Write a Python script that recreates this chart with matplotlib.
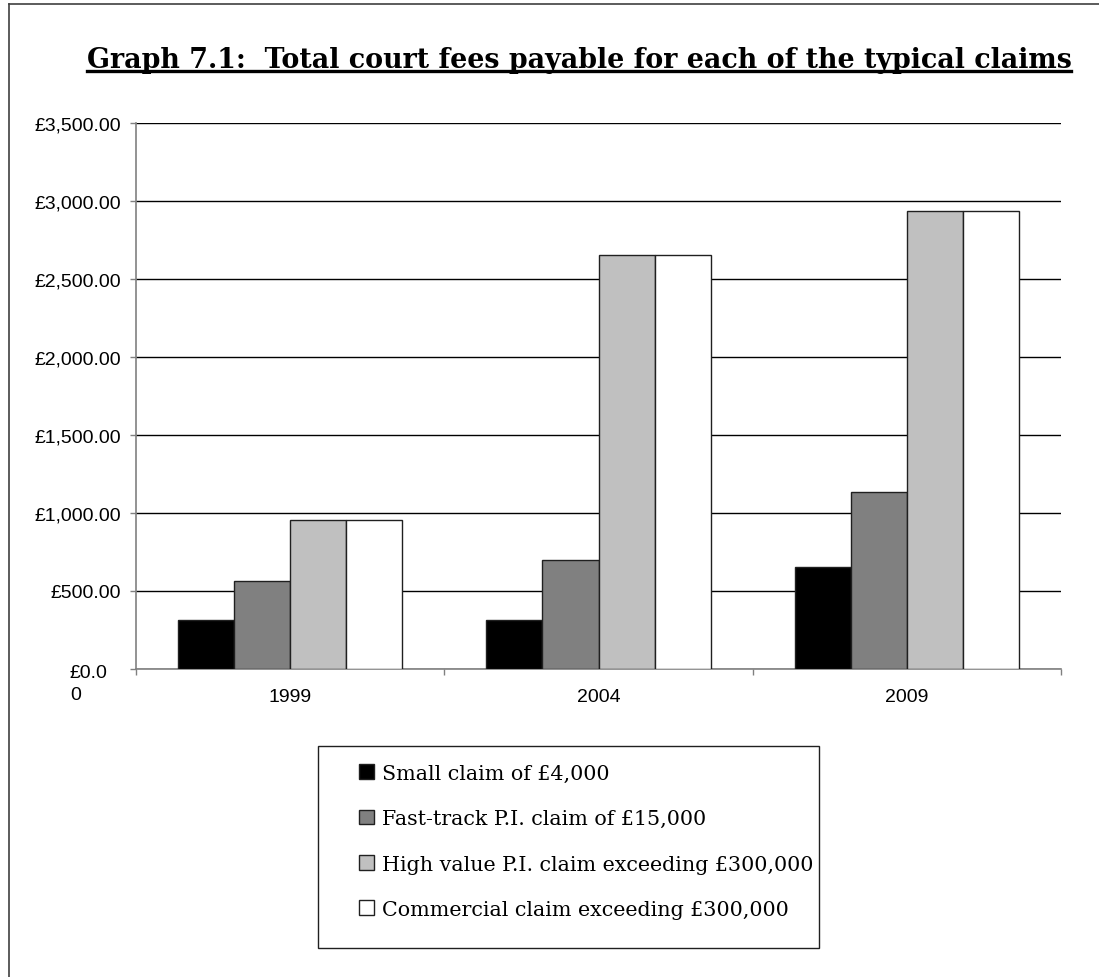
import numpy as np
import matplotlib.pyplot as plt
from matplotlib.ticker import FuncFormatter, FixedLocator
from matplotlib.lines import Line2D
from matplotlib.patches import Rectangle
from matplotlib.transforms import blended_transform_factory, ScaledTranslation

# Data
years = ['1999', '2004', '2009']
small_claim = [314, 314, 654]
fast_track = [562, 700, 1136]
high_value_pi = [957, 2652, 2938]
commercial = [957, 2652, 2938]

series_names = ['Small claim of £4,000',
                'Fast-track P.I. claim of £15,000',
                'High value P.I. claim exceeding £300,000',
                'Commercial claim exceeding £300,000']
series_values = [small_claim, fast_track, high_value_pi, commercial]
series_colors = ['#000000', '#808080', '#c0c0c0', '#ffffff']

W, H = 1099, 978
fig = plt.figure(figsize=(W / 100, H / 100), dpi=100)
fig.patch.set_facecolor('white')

# axes placed to match the plot area (pixels)
ax = fig.add_axes([136 / W, 1 - 670 / H, (1061 - 136) / W, (670 - 124) / H])

x = np.arange(len(years))
bar_w = 0.182
for i, (name, vals, col) in enumerate(zip(series_names, series_values, series_colors)):
    ax.bar(x + (i - 1.5) * bar_w, vals, width=bar_w, color=col,
           edgecolor='#202020', linewidth=1.0, label=name, zorder=3)

ax.set_xlim(-0.5, len(years) - 0.5)
ax.set_ylim(0, 3500)
ax.set_yticks(np.arange(0, 3501, 500))

def money(v, pos):
    if v == 0:
        return ''
    return '£{:,.2f}'.format(v)

ax.yaxis.set_major_formatter(FuncFormatter(money))
ax.yaxis.grid(True, color='#000000', linewidth=1.0, zorder=0)
ax.set_axisbelow(True)

ax.set_xticks(x)
ax.set_xticklabels(years)
ax.xaxis.set_minor_locator(FixedLocator(np.arange(-0.5, len(years), 1.0)))
ax.tick_params(axis='x', which='major', length=0, pad=14)
ax.tick_params(axis='x', which='minor', length=4.5, width=1, color='#808080', direction='out')
ax.tick_params(axis='y', length=4.5, width=1, color='#808080', pad=6.5)
for lbl in ax.get_xticklabels() + ax.get_yticklabels():
    lbl.set_fontfamily('Liberation Sans')
    lbl.set_fontsize(14)

for s in ['top', 'right']:
    ax.spines[s].set_visible(False)
for s in ['left', 'bottom']:
    ax.spines[s].set_color('#808080')
    ax.spines[s].set_linewidth(1.2)

# the wrapped zero label, as in the original
tr = blended_transform_factory(fig.transFigure, ax.transData) + \
    ScaledTranslation(0, 5 / 100, fig.dpi_scale_trans)
fig.text(70 / W, 0, '£0.0\n0', transform=tr, ha='left', va='top',
         fontfamily='Liberation Sans', fontsize=14, linespacing=1.35)

# title with underline
title = fig.text(579 / W, 1 - 68 / H, 'Graph 7.1:  Total court fees payable for each of the typical claims',
                 ha='center', va='baseline', fontfamily='DejaVu Serif',
                 fontweight='bold', fontsize=19)
renderer = fig.canvas.get_renderer()
bb = title.get_window_extent(renderer)
target_w = 1070 - 88
title.set_fontsize(19 * target_w / bb.width)
bb = title.get_window_extent(renderer)
uy = 1 - 72 / H
fig.add_artist(Line2D([bb.x0 / W, bb.x1 / W], [uy, uy], color='black', linewidth=2.4,
                      transform=fig.transFigure))

# legend below the chart, with its own box
leg = fig.legend(loc='upper left', bbox_to_anchor=(359 / W, 1 - 765 / H),
                 frameon=False,
                 prop={'family': 'DejaVu Serif', 'size': 14.9},
                 handlelength=0.72, handleheight=0.72, handletextpad=0.38,
                 labelspacing=1.27, borderpad=0, borderaxespad=0)
fig.add_artist(Rectangle((318 / W, 1 - 949 / H), (819 - 318) / W, (949 - 747) / H,
                         transform=fig.transFigure, fill=False,
                         edgecolor='#202020', linewidth=1.0))

# outer chart border (left and top)
fig.add_artist(Line2D([9 / W, 9 / W], [0, 1 - 5 / H], color='#404040', linewidth=1.2,
                      transform=fig.transFigure))
fig.add_artist(Line2D([9 / W, 1], [1 - 5 / H, 1 - 5 / H], color='#404040', linewidth=1.2,
                      transform=fig.transFigure))

fig.savefig('out.png', dpi=100)
